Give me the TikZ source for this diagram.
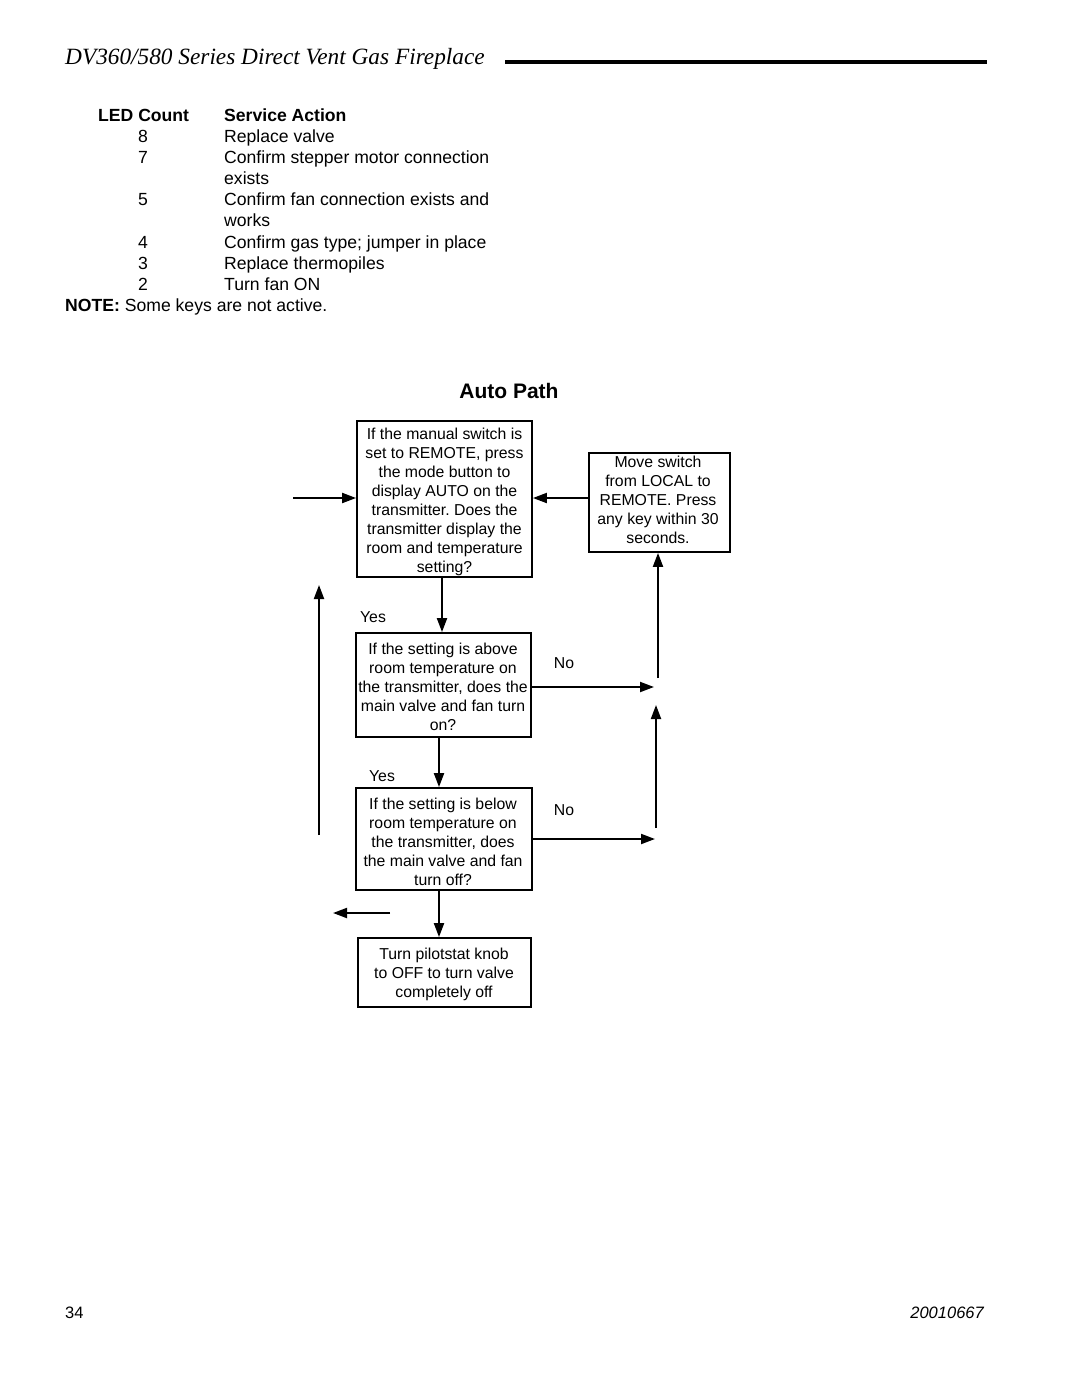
\documentclass[tikz,border=0pt]{standalone}
\usepackage{fontspec}
\setmainfont{Liberation Sans}
\newfontfamily\serifit{Liberation Serif}
\usetikzlibrary{arrows.meta,calc}
\frenchspacing
\begin{document}
\begin{tikzpicture}[x=1pt,y=-1pt,
  boxtxt/.style={font=\fontsize{15.8}{19}\selectfont},
  fbox/.style={draw,line width=1.8pt,inner sep=0pt},
  ftxt/.style={inner sep=0pt,align=center,boxtxt},
  arr/.style={line width=2pt,-{Triangle[length=14pt,width=10pt]}},
  tab/.style={font=\fontsize{17.6}{21}\selectfont,inner sep=0pt},
  tabb/.style={font=\fontsize{17.6}{21}\selectfont\bfseries,inner sep=0pt},
  lbl/.style={boxtxt,inner sep=0pt}]
\useasboundingbox (0,0) rectangle (1080,1397);
\fill[white] (0,0) rectangle (1080,1397);
% header
\node[anchor=base west,inner sep=0pt,font=\serifit\itshape\fontsize{23.3}{27}\selectfont] (title) at (65,64) {DV360/580 Series Direct Vent Gas Fireplace};
\draw[line width=4pt] (505,62) -- (987,62);
% table
\node[tabb,anchor=base west] (h1) at (98,121) {LED Count};
\node[tabb,anchor=base west] (h2) at (224,121) {Service Action};
\node[tab,anchor=base] (n8) at (143,142) {8};
\node[tab,anchor=base west] (a8) at (224,142) {Replace valve};
\node[tab,anchor=base] (n7) at (143,163) {7};
\node[tab,anchor=base west] (a7) at (224,163) {Confirm stepper motor connection};
\node[tab,anchor=base west] (a7b) at (224,184) {exists};
\node[tab,anchor=base] (n5) at (143,205) {5};
\node[tab,anchor=base west] (a5) at (224,205) {Confirm fan connection exists and};
\node[tab,anchor=base west] (a5b) at (224,226) {works};
\node[tab,anchor=base] (n4) at (143,248) {4};
\node[tab,anchor=base west] (a4) at (224,248) {Confirm gas type; jumper in place};
\node[tab,anchor=base] (n3) at (143,269) {3};
\node[tab,anchor=base west] (a3) at (224,269) {Replace thermopiles};
\node[tab,anchor=base] (n2) at (143,290) {2};
\node[tab,anchor=base west] (a2) at (224,290) {Turn fan ON};
\node[tab,anchor=base west] (note) at (65,311) {\textbf{NOTE:} Some keys are not active.};
% title
\node[inner sep=0pt,font=\fontsize{21}{25}\selectfont\bfseries] (ap) at (509,391) {Auto Path};
% boxes
\node[fbox,minimum width=175pt,minimum height=156pt] (b1) at (444.5,499) {};
\node[ftxt] (t1) at (444.5,502)
 {If the manual switch is\\set to REMOTE, press\\the mode button to\\display AUTO on the\\transmitter. Does the\\transmitter display the\\room and temperature\\setting?};
\node[fbox,minimum width=141pt,minimum height=99pt] (b2) at (659.5,502.5) {};
\node[ftxt] (t2) at (658,499.5)
 {Move switch\\from LOCAL to\\REMOTE. Press\\any key within 30\\seconds.};
\node[fbox,minimum width=175pt,minimum height=104pt] (b3) at (443.5,685) {};
\node[ftxt] (t3) at (443,686.5)
 {If the setting is above\\room temperature on\\the transmitter, does the\\main valve and fan turn\\on?};
\node[fbox,minimum width=176pt,minimum height=102pt] (b4) at (444,839) {};
\node[ftxt] (t4) at (443,841.5)
 {If the setting is below\\room temperature on\\the transmitter, does\\the main valve and fan\\turn off?};
\node[fbox,minimum width=173pt,minimum height=69pt] (b5) at (444.5,972.5) {};
\node[ftxt] (t5) at (444,974.5)
 {Turn pilotstat knob\\to OFF to turn valve\\completely off};
% labels
\node[lbl] (y1) at (373,617) {Yes};
\node[lbl] (y2) at (382,776) {Yes};
\node[lbl] (no1) at (564,663) {No};
\node[lbl] (no2) at (564,810) {No};
% coordinates
\coordinate (in1) at (293,498);
\coordinate (e1) at (654,687);
\coordinate (v1) at (658,678);
\coordinate (e2) at (655,839);
\coordinate (v2s) at (656,828);
\coordinate (v2e) at (656,705);
\coordinate (lvs) at (319,835);
\coordinate (lve) at (319,585);
\coordinate (las) at (390,913);
\coordinate (lae) at (333,913);
% connectors
\draw[arr] (in1) -- (in1 -| b1.west);
\draw[arr] ([yshift=4.5pt]b2.west) -- ([yshift=4.5pt]b2.west -| b1.east);
\draw[arr] ([xshift=-2.5pt]b1.south) -- ([xshift=-2.5pt]b1.south |- b3.north);
\draw[arr] (e1 -| b3.east) -- (e1);
\draw[arr] (v1) -- (v1 |- b2.south);
\draw[arr] ([xshift=-4.5pt]b3.south) -- ([xshift=-4.5pt]b3.south |- b4.north);
\draw[arr] (e2 -| b4.east) -- (e2);
\draw[arr] (v2s) -- (v2e);
\draw[arr] (lvs) -- (lve);
\draw[arr] ([xshift=-5pt]b4.south) -- ([xshift=-5pt]b4.south |- b5.north);
\draw[arr] (las) -- (lae);
% footer
\node[anchor=base west,inner sep=0pt,font=\fontsize{16.5}{20}\selectfont] (pg) at (65,1318) {34};
\node[anchor=base east,inner sep=0pt,font=\fontsize{16.5}{20}\selectfont\itshape] (doc) at (984,1318) {20010667};
\end{tikzpicture}
\end{document}
